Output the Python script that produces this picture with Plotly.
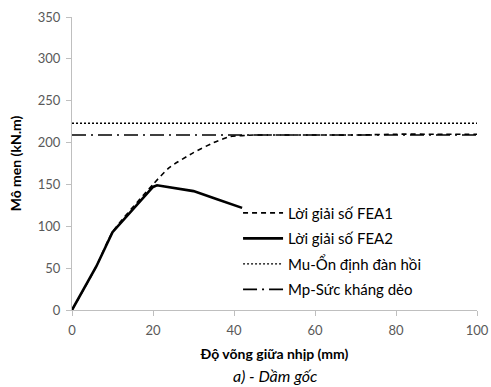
import plotly.graph_objects as go

# Data
fea1_x = [0, 6, 10, 20, 24, 30, 35, 39, 45, 50, 60, 70, 80, 90, 100]
fea1_y = [0, 52, 93, 150, 170, 188, 200, 207, 209, 209, 209, 209, 210, 210, 210]
fea2_x = [0, 6, 10, 20, 21, 30, 36, 42]
fea2_y = [0, 52, 93, 147, 149, 142, 132, 122]
mu_x = [0, 100]
mu_y = [223, 223]
mp_x = [0, 100]
mp_y = [209, 209]

names = ["Lời giải số FEA1", "Lời giải số FEA2", "Mu-Ổn định đàn hồi", "Mp-Sức kháng dẻo"]

font_family = "Lato, 'Open Sans', sans-serif"

fig = go.Figure()
fig.add_trace(go.Scatter(x=fea1_x, y=fea1_y, mode="lines", name=names[0], legendgroup="a",
                         line=dict(color="black", width=1.6, dash="5px,4px",
                                   shape="spline", smoothing=0.6)))
fig.add_trace(go.Scatter(x=fea2_x, y=fea2_y, mode="lines", name=names[1], legendgroup="b",
                         line=dict(color="black", width=2.6)))
fig.add_trace(go.Scatter(x=mu_x, y=mu_y, mode="lines", name=names[2], legendgroup="c",
                         line=dict(color="black", width=1.4, dash="2px,2px")))
fig.add_trace(go.Scatter(x=mp_x, y=mp_y, mode="lines", name=names[3], legendgroup="d",
                         line=dict(color="black", width=1.6, dash="14px,5px,2px,5px")))

fig.update_layout(
    width=491, height=387,
    margin=dict(l=72, r=14, t=17, b=77, autoexpand=False),
    paper_bgcolor="white", plot_bgcolor="white",
    font=dict(family=font_family, color="black"),
    showlegend=True,
    legend=dict(x=0.41, y=0.387, xanchor="left", yanchor="top",
                bgcolor="rgba(0,0,0,0)", font=dict(size=15, color="black"),
                tracegroupgap=3, itemwidth=40),
    xaxis=dict(range=[0, 100], tickvals=[0, 20, 40, 60, 80, 100], automargin=False,
               showgrid=False, zeroline=False, showline=True, linecolor="#bfbfbf",
               linewidth=1, ticks="outside", tickcolor="#bfbfbf", ticklen=5,
               ticklabelstandoff=3,
               tickfont=dict(size=13, color="#595959"),
               title=dict(text="<b>Độ võng giữa nhịp (mm)</b>", font=dict(size=14), standoff=12)),
    yaxis=dict(range=[0, 350], tickvals=[0, 50, 100, 150, 200, 250, 300, 350], automargin=False,
               showgrid=False, zeroline=False, showline=True, linecolor="#bfbfbf",
               linewidth=1, ticks="outside", tickcolor="#bfbfbf", ticklen=5,
               ticklabelstandoff=3,
               tickfont=dict(size=13, color="#595959"),
               title=dict(text="<b>Mô men (kN.m)</b>", font=dict(size=14), standoff=12)),
)

fig.add_annotation(text="<i>a) - Dầm gốc</i>", xref="paper", yref="paper",
                   x=0.5, y=-0.185, yanchor="top", showarrow=False,
                   font=dict(size=16, color="black", family=font_family))

fig.write_html("out.html", config={"displayModeBar": False},
               post_script="document.body.style.margin='0';")
